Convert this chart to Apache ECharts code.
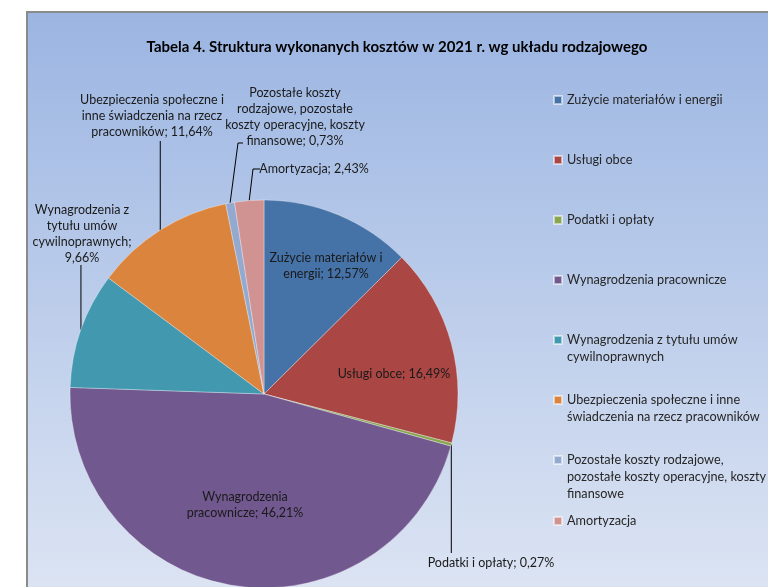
<!DOCTYPE html>
<html><head><meta charset="utf-8">
<script src="https://cdn.jsdelivr.net/npm/echarts@6/dist/echarts.min.js"></script>
<style>html,body{margin:0;padding:0;background:#fff}#c{width:768px;height:587px}</style>
</head><body><div id="c"></div>
<script>
// ---- data ----
const chartTitle = 'Tabela 4. Struktura wykonanych kosztów w 2021 r. wg układu rodzajowego';
const categories = [
  'Zużycie materiałów i energii',
  'Usługi obce',
  'Podatki i opłaty',
  'Wynagrodzenia pracownicze',
  'Wynagrodzenia z tytułu umów cywilnoprawnych',
  'Ubezpieczenia społeczne i inne świadczenia na rzecz pracowników',
  'Pozostałe koszty rodzajowe, pozostałe koszty operacyjne, koszty finansowe',
  'Amortyzacja'
];
const values = [12.57, 16.49, 0.27, 46.21, 9.66, 11.64, 0.73, 2.43];
const legendTexts = [
  'Zużycie materiałów i energii',
  'Usługi obce',
  'Podatki i opłaty',
  'Wynagrodzenia pracownicze',
  'Wynagrodzenia z tytułu umów\ncywilnoprawnych',
  'Ubezpieczenia społeczne i inne\nświadczenia na rzecz pracowników',
  'Pozostałe koszty rodzajowe,\npozostałe koszty operacyjne, koszty\nfinansowe',
  'Amortyzacja'
];
const labelTemplates = [
  'Zużycie materiałów i\nenergii; {v}',
  'Usługi obce; {v}',
  'Podatki i opłaty; {v}',
  'Wynagrodzenia\npracownicze; {v}',
  'Wynagrodzenia z\ntytułu umów\ncywilnoprawnych;\n{v}',
  'Ubezpieczenia społeczne i\ninne świadczenia na rzecz\npracowników; {v}',
  'Pozostałe koszty\nrodzajowe, pozostałe\nkoszty operacyjne, koszty\nfinansowe; {v}',
  'Amortyzacja; {v}'
];

// ---- styles / layout ----
const colors = ['#4572A7','#AA4643','#89A54E','#71588F','#4198AF','#DB843D','#93A9CF','#D19392'];
const FONT = 'Lato';
const LH = 16.3;
const pieCenter = [264, 394];
const pieRadius = 194;
// label placement (center of text block) and leader-line bends
const labelPlace = [
  {inside: true, x: 326, y: 266},
  {inside: true, x: 394, y: 374},
  {x: 491, y: 563, bends: a => [[a[0], 553]]},
  {inside: true, x: 245, y: 505},
  {x: 82, y: 234, bends: a => [[a[0], 265]]},
  {x: 152, y: 116, bends: a => [[a[0], 141]]},
  {x: 295, y: 117, bends: a => [[238, 143], [243, 143]]},
  {x: 314, y: 169, bends: a => [[253, 169], [260, 169]]}
];
const legendCenters = [100, 160, 220, 280, 340, 400, 460, 521];
const LEG_LH = 17;

const fmt = v => v.toFixed(2).replace('.', ',') + '%';

const data = categories.map((name, i) => ({
  name,
  value: values[i],
  itemStyle: {color: colors[i]},
  label: labelPlace[i].inside ? {position: 'inside'} : {position: 'outside'},
  labelLine: {show: !labelPlace[i].inside}
}));

const legends = categories.map((name, i) => {
  const n = legendTexts[i].split('\n').length;
  // prefix blank lines so that the first text line sits beside the icon
  const txt = ' \n'.repeat(n - 1) + legendTexts[i];
  const H = (2 * n - 1) * LEG_LH;
  return {
    orient: 'vertical',
    left: 553,
    top: legendCenters[i] - H / 2,
    padding: 0,
    itemWidth: 8,
    itemHeight: 8,
    itemGap: 0,
    icon: 'rect',
    selectedMode: false,
    data: [name],
    formatter: () => txt,
    textStyle: {
      fontFamily: FONT, fontSize: 12.7, color: '#262626',
      lineHeight: LEG_LH
    }
  };
});

const chart = echarts.init(document.getElementById('c'), null, {renderer: 'canvas'});
chart.setOption({
  animation: false,
  backgroundColor: '#ffffff',
  graphic: [
    {
      type: 'rect', z: -10, silent: true,
      shape: {x: 27, y: 12, width: 760, height: 577},
      style: {
        fill: new echarts.graphic.LinearGradient(0, 0, 0, 1, [
          {offset: 0, color: '#9BB5E2'},
          {offset: 1, color: '#DCE4F3'}
        ]),
        stroke: '#8A8A8A', lineWidth: 2
      }
    },
    {
      type: 'text', z: 10, silent: true,
      x: 397, y: 47,
      style: {
        text: chartTitle, fill: '#000', font: 'bold 15px ' + FONT,
        textAlign: 'center', textVerticalAlign: 'middle'
      }
    }
  ],
  legend: legends,
  series: [{
    type: 'pie',
    center: pieCenter,
    radius: pieRadius,
    startAngle: 90,
    clockwise: true,
    avoidLabelOverlap: false,
    data,
    itemStyle: {borderColor: 'rgba(255,255,255,0.55)', borderWidth: 0.6},
    emphasis: {disabled: true},
    label: {
      fontFamily: FONT, fontSize: 12.5, color: '#1a1a1a', lineHeight: LH,
      align: 'center',
      formatter: p => labelTemplates[p.dataIndex].replace('{v}', fmt(values[p.dataIndex]))
    },
    labelLine: {
      show: true, length: 10, length2: 10, smooth: false,
      lineStyle: {color: '#000', width: 1}
    },
    labelLayout: params => {
      const pl = labelPlace[params.dataIndex];
      const out = {x: pl.x, y: pl.y, align: 'center', verticalAlign: 'middle'};
      if (!pl.inside && params.labelLinePoints && params.labelLinePoints.length) {
        const a = params.labelLinePoints[0];
        out.labelLinePoints = [a].concat(pl.bends(a));
      }
      return out;
    }
  }]
});
</script>
</body></html>
